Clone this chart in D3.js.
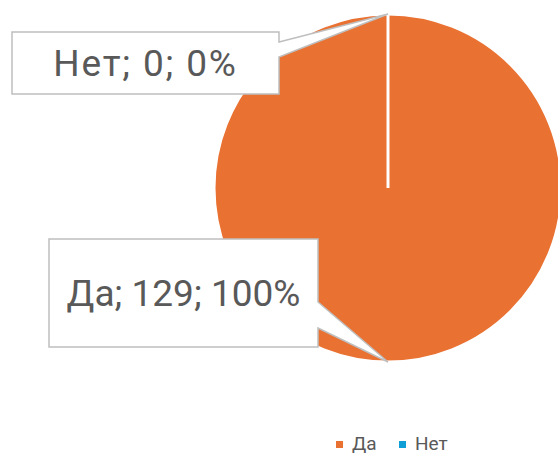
<!DOCTYPE html>
<html lang="ru">
<head>
    <meta charset="UTF-8">
    <title>Да / Нет</title>
    <style>
        body {
            margin: 0;
            padding: 0;
            background: #ffffff;
            font-family: Roboto, "Open Sans", Arial, sans-serif;
        }
        #chart { width: 558px; height: 454px; }
    </style>
</head>
<body>
    <div id="chart"></div>

    <script src="https://d3js.org/d3.v7.min.js"></script>
    <script>
        // Chart data
        const categories = ["Да", "Нет"];
        const counts = [129, 0];
        const colors = ["#E97132", "#0F9ED5"];

        const width = 558;
        const height = 454;
        const cx = 388, cy = 188, radius = 174;

        const svg = d3.select("#chart")
            .append("svg")
            .attr("width", width)
            .attr("height", height);

        const total = d3.sum(counts);
        const data = categories.map((c, i) => ({ name: c, value: counts[i], color: colors[i] }));

        const pie = d3.pie().value(d => d.value).sort(null);
        const arc = d3.arc().innerRadius(0).outerRadius(radius);
        const arcs = pie(data);

        const g = svg.append("g").attr("transform", `translate(${cx},${cy})`);

        g.selectAll("path.slice")
            .data(arcs)
            .enter()
            .append("path")
            .attr("class", "slice")
            .attr("d", arc)
            .attr("fill", d => d.data.color)
            .attr("stroke", "#ffffff")
            .attr("stroke-width", 3);

        // Callout boxes (box rect + pointer toward slice midpoint on the rim)
        const boxes = [
            { x: 49, y: 239, w: 269, h: 108, py1: 302, py2: 328, ls: 0 },
            { x: 12, y: 32, w: 267, h: 62, py1: 42, py2: 57, ls: 1.8 }
        ];

        arcs.forEach((a, i) => {
            const b = boxes[i];
            const mid = (a.startAngle + a.endAngle) / 2;
            const tx = cx + Math.sin(mid) * radius;
            const ty = cy - Math.cos(mid) * radius;
            const r = b.x + b.w;
            const p = d3.path();
            p.moveTo(b.x, b.y);
            p.lineTo(r, b.y);
            p.lineTo(r, b.py1);
            p.lineTo(tx, ty);
            p.lineTo(r, b.py2);
            p.lineTo(r, b.y + b.h);
            p.lineTo(b.x, b.y + b.h);
            p.closePath();
            svg.append("path")
                .attr("d", p.toString())
                .attr("fill", "#ffffff")
                .attr("stroke", "#BFBFBF")
                .attr("stroke-width", 1.5)
                .attr("stroke-linejoin", "miter");

            const pct = total ? Math.round(a.data.value / total * 100) : 0;
            svg.append("text")
                .attr("x", b.x + b.w / 2)
                .attr("y", b.y + b.h / 2)
                .attr("dy", "0.36em")
                .attr("text-anchor", "middle")
                .attr("fill", "#595959")
                .style("font-size", "37px")
                .style("letter-spacing", b.ls + "px")
                .text(`${a.data.name}; ${a.data.value}; ${pct}%`);
        });

        // Legend
        const legend = svg.append("g").attr("transform", "translate(336,441)");
        const legendX = [0, 63];
        data.forEach((d, i) => {
            const item = legend.append("g").attr("transform", `translate(${legendX[i]},0)`);
            item.append("rect")
                .attr("width", 7)
                .attr("height", 7)
                .attr("fill", d.color);
            item.append("text")
                .attr("x", 16)
                .attr("y", 9)
                .attr("fill", "#595959")
                .style("font-size", "19px")
                .text(d.name);
        });
    </script>
</body>
</html>
